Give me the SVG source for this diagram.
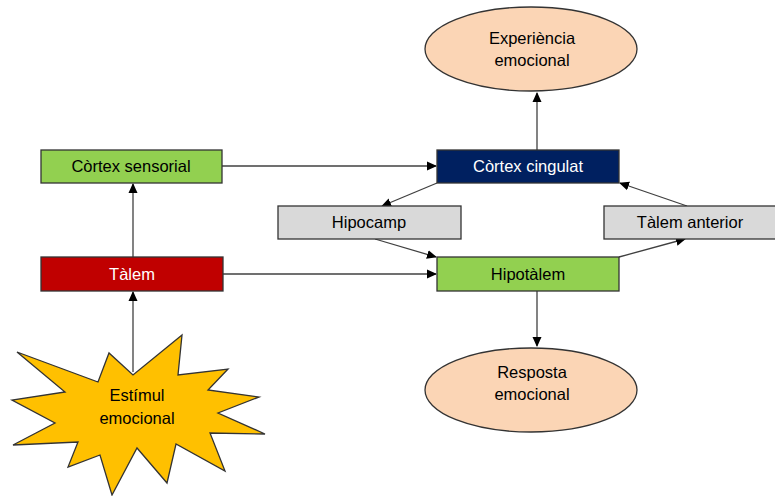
<svg xmlns="http://www.w3.org/2000/svg" width="775" height="496" viewBox="0 0 775 496">
<defs>
<marker id="ah" markerWidth="10" markerHeight="10" refX="9" refY="5" orient="auto" markerUnits="userSpaceOnUse">
<path d="M0,0.5 L10,5 L0,9.5 Z" fill="#000"/>
</marker>
<style>
text{font-family:"Liberation Sans",Arial,sans-serif;font-size:16.5px;text-anchor:middle;fill:#000}
.box{stroke:#333;stroke-width:1.3}
.w{fill:#fff}
.c line{stroke:#404040;stroke-width:1.3;marker-end:url(#ah)}
</style>
</defs>
<rect width="775" height="496" fill="#fff"/>
<g class="c" id="connectors">
<line x1="133" y1="372" x2="133" y2="292"/>
<line x1="133" y1="257" x2="133" y2="184"/>
<line x1="222" y1="166" x2="436" y2="166"/>
<line x1="223" y1="274" x2="436" y2="274"/>
<line x1="537" y1="150" x2="537" y2="93"/>
<line x1="537" y1="291" x2="537" y2="346"/>
<line x1="437" y1="183" x2="382" y2="206"/>
<line x1="375" y1="239" x2="436" y2="257"/>
<line x1="619" y1="257" x2="685" y2="239"/>
<line x1="687" y1="206" x2="620" y2="183"/>
</g>
<g id="exp">
<ellipse cx="531" cy="49" rx="106" ry="42" fill="#FBD5B5" stroke="#333" stroke-width="1.3"/>
<text x="532" y="44">Experiència</text>
<text x="532" y="66">emocional</text>
</g>
<g id="resp">
<ellipse cx="531" cy="390" rx="106" ry="42" fill="#FBD5B5" stroke="#333" stroke-width="1.3"/>
<text x="532" y="378">Resposta</text>
<text x="532" y="400">emocional</text>
</g>
<g id="csens">
<rect class="box" x="41" y="150" width="181" height="33" fill="#92D050"/>
<text x="131" y="172">Còrtex sensorial</text>
</g>
<g id="talem">
<rect class="box" x="41" y="257" width="182" height="34" fill="#C00000"/>
<text class="w" x="132" y="280">Tàlem</text>
</g>
<g id="ccing">
<rect class="box" x="437" y="150" width="182" height="33" fill="#002060"/>
<text class="w" x="528" y="172">Còrtex cingulat</text>
</g>
<g id="hipocamp">
<rect class="box" x="278" y="206" width="183" height="33" fill="#D9D9D9"/>
<text x="369" y="228">Hipocamp</text>
</g>
<g id="tant">
<rect class="box" x="604" y="206" width="172" height="33" fill="#D9D9D9"/>
<text x="690" y="228">Tàlem anterior</text>
</g>
<g id="hipot">
<rect class="box" x="437" y="257" width="182" height="34" fill="#92D050"/>
<text x="528" y="280">Hipotàlem</text>
</g>
<g id="estimul">
<polygon points="182,335 178,375 228,369 208,390 259,397 218,413 265,434 210,433 225,471 176,444 167,483 137,448 112,495 100,455 68,467 78,442 13,445 55,423 12,400 65,392 17,352 98,382 109,353 133,375" fill="#FFC000" stroke="#333" stroke-width="1.3" stroke-linejoin="miter"/>
<text x="137" y="401">Estímul</text>
<text x="137" y="424">emocional</text>
</g>
</svg>
